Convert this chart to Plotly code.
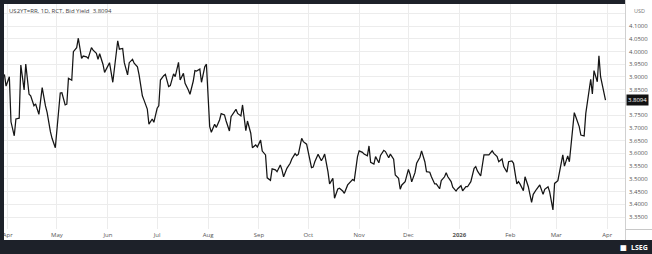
import pandas as pd
import plotly.graph_objects as go

# ---------------- data ----------------
start_date = "2025-04-01"
day_offsets = [
    -2, -1, 1, 2, 4, 5, 7, 8, 10, 11, 13, 14, 16, 17, 19, 21, 23, 24, 26, 27,
    29, 30, 32, 33, 35, 36, 37, 39, 40, 42, 43, 45, 46, 48, 49, 51, 52, 54, 55, 56,
    58, 59, 61, 62, 64, 65, 67, 68, 70, 71, 73, 74, 76, 77, 79, 80, 82, 83, 85, 86,
    88, 89, 91, 92,
    93, 95, 96, 98, 99, 101, 102, 104, 105, 107, 108, 110, 111, 113, 114, 115, 117, 118, 120, 121,
    123, 124, 126, 127, 129, 130, 132, 133, 135, 136, 138, 139, 140, 142, 143, 145, 146, 148, 149, 151,
    152, 154, 155, 157, 158, 160, 161, 163, 164, 166, 167, 168, 170, 172, 173, 175, 176, 177, 179, 180,
    182, 183, 185, 186,
    187, 189, 191, 192, 193, 195, 196, 198, 199, 201, 202, 204, 205, 207, 208, 210, 211, 213, 214, 216,
    217, 219, 220, 221, 223, 224, 226, 227, 229, 230, 232, 233, 235, 236, 238, 239, 240, 242, 244, 245,
    246, 248, 249, 251, 252, 254, 255, 257, 258, 260, 261, 263, 264, 266, 267, 268, 270, 271, 273, 274,
    276, 277, 279,
    280, 282, 284, 285, 286, 288, 289, 290, 292, 293, 295, 296, 298, 299, 301, 302, 304, 305, 307, 308,
    310, 311, 312, 314, 315, 317, 319, 320, 322, 323, 324, 326, 327, 329, 330, 332, 333, 335, 336, 338,
    339, 341, 342, 343, 345, 346, 348, 349, 351, 352, 354, 355, 356, 357, 359, 360, 361, 363, 364,
]
bid_yield = [
    3.910, 3.864, 3.901, 3.724, 3.669, 3.735, 3.738, 3.947, 3.849, 3.951,
    3.832, 3.826, 3.787, 3.794, 3.753, 3.858, 3.786, 3.761, 3.685, 3.659,
    3.622, 3.685, 3.837, 3.838, 3.790, 3.793, 3.895, 3.887, 3.999, 4.015,
    4.052, 3.973, 3.982, 3.979, 3.973, 4.015, 4.005, 3.993, 3.969, 3.991,
    3.950, 3.918, 3.947, 3.956, 3.879, 3.936, 4.042, 4.009, 4.012, 3.956,
    3.908, 3.956, 3.969, 3.954, 3.940, 3.908, 3.826, 3.809, 3.774, 3.715,
    3.735, 3.722, 3.777, 3.787,
    3.888, 3.905, 3.910, 3.862, 3.866, 3.912, 3.901, 3.957, 3.888, 3.914,
    3.875, 3.849, 3.832, 3.884, 3.925, 3.923, 3.931, 3.879, 3.940, 3.950,
    3.705, 3.683, 3.714, 3.702, 3.731, 3.756, 3.751, 3.727, 3.688, 3.744,
    3.764, 3.773, 3.757, 3.747, 3.790, 3.689, 3.727, 3.679, 3.622, 3.633,
    3.625, 3.652, 3.609, 3.594, 3.504, 3.494, 3.539, 3.535, 3.528, 3.554,
    3.535, 3.508, 3.541, 3.561, 3.578, 3.599, 3.591, 3.597, 3.659, 3.646,
    3.636, 3.609, 3.544, 3.546,
    3.567, 3.596, 3.571, 3.583, 3.597, 3.528, 3.480, 3.502, 3.424, 3.460,
    3.463, 3.452, 3.443, 3.476, 3.482, 3.497, 3.493, 3.587, 3.610, 3.604,
    3.597, 3.590, 3.629, 3.565, 3.558, 3.587, 3.563, 3.592, 3.612, 3.607,
    3.583, 3.597, 3.577, 3.515, 3.502, 3.459, 3.476, 3.489, 3.537, 3.518,
    3.488, 3.524, 3.561, 3.585, 3.610, 3.567, 3.528, 3.526, 3.508, 3.480,
    3.480, 3.461, 3.493, 3.508, 3.524, 3.508, 3.489, 3.467, 3.452, 3.461,
    3.473, 3.453, 3.469,
    3.469, 3.489, 3.541, 3.548, 3.531, 3.511, 3.554, 3.594, 3.594, 3.594,
    3.610, 3.600, 3.587, 3.567, 3.578, 3.548, 3.526, 3.567, 3.570, 3.561,
    3.480, 3.489, 3.479, 3.453, 3.508, 3.469, 3.408, 3.439, 3.459, 3.469,
    3.476, 3.439, 3.459, 3.469, 3.449, 3.378, 3.482, 3.493, 3.532, 3.594,
    3.550, 3.590, 3.567, 3.626, 3.760, 3.742, 3.705, 3.672, 3.668, 3.757,
    3.836, 3.891, 3.833, 3.925, 3.881, 3.983, 3.901, 3.829, 3.8094,
]
last_value = 3.8094
title_text = "US2YT=RR, 1D, RCT, Bid Yield  3.8094"
currency_label = "USD"
month_ticks = ["2025-04-01", "2025-05-01", "2025-06-01", "2025-07-01", "2025-08-01",
               "2025-09-01", "2025-10-01", "2025-11-01", "2025-12-01", "2026-01-01",
               "2026-02-01", "2026-03-01", "2026-04-01"]
month_labels = ["Apr", "May", "Jun", "Jul", "Aug", "Sep", "Oct", "Nov", "Dec",
                "<b>2026</b>", "Feb", "Mar", "Apr"]
y_ticks = [3.35, 3.40, 3.45, 3.50, 3.55, 3.60, 3.65, 3.70, 3.75, 3.80, 3.85,
           3.90, 3.95, 4.00, 4.05, 4.10, 4.15]
# the 3.8000 label is hidden behind the last-value marker in the reference
y_tick_labels = ["3.3500", "3.4000", "3.4500", "3.5000", "3.5500", "3.6000",
                 "3.6500", "3.7000", "3.7500", "", "3.8500", "3.9000",
                 "3.9500", "4.0000", "4.0500", "4.1000", ""]

# ---------------- layout ----------------
W, H = 652, 254
px = lambda v: v / W
py = lambda v: 1 - v / H  # from top

dates = pd.Timestamp(start_date) + pd.to_timedelta(day_offsets, unit="D")

FONT = "Open Sans, Liberation Sans, sans-serif"
DARK = "#1d2129"
GRID = "#ececec"

fig = go.Figure()
fig.add_trace(go.Scatter(
    x=dates, y=bid_yield, mode="lines",
    line=dict(color="#151515", width=1.25),
    hoverinfo="skip", showlegend=False,
))

fig.update_layout(
    width=W, height=H,
    margin=dict(l=0, r=0, t=0, b=0),
    paper_bgcolor="white",
    plot_bgcolor="white",
    font=dict(family=FONT, size=6, color="#555555"),
    xaxis=dict(
        domain=[px(4), px(625)],
        range=["2025-03-29 18:00", "2026-04-11 21:00"],
        tickmode="array", tickvals=month_ticks, ticktext=month_labels,
        showgrid=True, gridcolor=GRID, gridwidth=1,
        ticks="", showline=False, zeroline=False,
        tickfont=dict(size=6, color="#555555", family=FONT),
        ticklabelstandoff=1,
    ),
    yaxis=dict(
        domain=[1 - 229 / H, 1 - 4 / H],
        range=[3.303, 4.1864],
        side="right",
        tickmode="array", tickvals=y_ticks, ticktext=y_tick_labels,
        showgrid=True, gridcolor=GRID, gridwidth=1,
        ticks="", showline=False, zeroline=False,
        tickfont=dict(size=6, color="#555555", family=FONT),
        ticklabelstandoff=3,
    ),
)

shapes = [
    # separator between plot and value axis
    dict(type="line", xref="paper", yref="paper", x0=px(625.5), x1=px(625.5),
         y0=py(240), y1=py(0), line=dict(color="#d0d0d0", width=1), layer="above"),
    dict(type="line", xref="paper", yref="paper", x0=px(625.5), x1=px(652),
         y0=py(229.5), y1=py(229.5), line=dict(color="#c8c8c8", width=1), layer="above"),
    # dark frame
    dict(type="rect", xref="paper", yref="paper", x0=0, x1=px(4), y0=0, y1=1,
         fillcolor=DARK, line=dict(width=0), layer="above"),
    dict(type="rect", xref="paper", yref="paper", x0=0, x1=px(625), y0=py(4), y1=1,
         fillcolor=DARK, line=dict(width=0), layer="above"),
    dict(type="rect", xref="paper", yref="paper", x0=0, x1=1, y0=0, y1=py(240),
         fillcolor=DARK, line=dict(width=0), layer="above"),
]
fig.update_layout(shapes=shapes)

annotations = [
    dict(xref="paper", yref="paper", x=px(7), y=py(11), xanchor="left", yanchor="middle",
         text=title_text, showarrow=False,
         font=dict(size=6, color="#444444", family=FONT)),
    dict(xref="paper", yref="paper", x=px(632), y=py(11), xanchor="left", yanchor="middle",
         text=currency_label, showarrow=False,
         font=dict(size=5.5, color="#777777", family=FONT)),
    dict(xref="paper", yref="y", x=px(626), y=last_value, xanchor="left", yanchor="middle",
         text=f"{last_value:.4f}", showarrow=False, bgcolor="#111111", borderpad=1,
         font=dict(size=6, color="white", family=FONT)),
    dict(xref="paper", yref="paper", x=px(650), y=py(247), xanchor="right", yanchor="middle",
         text="<b>LSEG</b>", showarrow=False,
         font=dict(size=7, color="white", family=FONT)),
    dict(xref="paper", yref="paper", x=px(629), y=py(247), xanchor="right", yanchor="middle",
         text="<b>▦</b>", showarrow=False,
         font=dict(size=7, color="white", family=FONT)),
]
fig.update_layout(annotations=annotations)

fig.write_html("out.html")
